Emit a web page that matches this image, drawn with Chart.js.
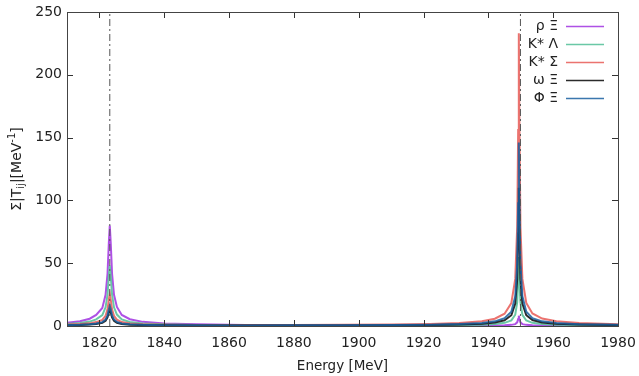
<!DOCTYPE html>
<html lang="en">
<head>
  <meta charset="UTF-8" />
  <title>Σ|Tij| vs Energy</title>
  <script src="https://cdn.jsdelivr.net/npm/chart.js"></script>
  <style>
    html, body { margin: 0; padding: 0; background: #fff; }
    #box { width: 639px; height: 376px; }
  </style>
</head>
<body>
  <div id="box"><canvas id="grafico"></canvas></div>

<script>
  // energies (MeV), denser around the two poles
  const energia = [1810, 1814, 1817, 1819, 1820.9, 1821.9, 1822.5, 1822.9, 1823.2, 1823.5, 1823.9, 1824.5, 1825.4, 1826.9, 1829.4, 1833.4,
    1840, 1850, 1865, 1880, 1895, 1910, 1922, 1931, 1938, 1942, 1945, 1947.1, 1948.3, 1948.9, 1949.2, 1949.4, 1949.6, 1949.9,
    1950.5, 1951.7, 1953.6, 1956.6, 1961, 1968, 1980];

  const rhoXi = [2.6, 3.8, 5.8, 8.8, 14.4, 24.8, 41.6, 65.6, 80, 65.6, 41.6, 24.8, 15.2, 8.8, 5.4, 3.3,
    2.0, 1.3, 0.8, 0.6, 0.5, 0.4, 0.39, 0.39, 0.42, 0.48, 0.6, 0.9, 1.5, 2.9, 5.6, 8.2, 5.6, 2.9,
    1.5, 0.9, 0.6, 0.45, 0.38, 0.33, 0.28];
  const kstLambda = [1.6, 2.3, 3.5, 5.3, 8.6, 14.9, 25, 39.4, 48, 39.4, 25, 14.9, 9.1, 5.3, 3.2, 2.0,
    1.3, 0.87, 0.6, 0.5, 0.46, 0.48, 0.56, 0.73, 1.05, 1.5, 2.5, 4.5, 9, 18.7, 36.9, 55, 36.9, 18.7,
    8.9, 4.4, 2.5, 1.5, 1.0, 0.68, 0.46];
  const kstSigma = [1.1, 1.5, 2.1, 3.1, 4.8, 8.1, 13.3, 20.8, 25.3, 20.8, 13.3, 8.1, 5.1, 3.1, 2.0, 1.4,
    1.0, 0.82, 0.74, 0.8, 0.92, 1.2, 1.64, 2.4, 3.8, 5.8, 9.8, 18.3, 37.5, 79, 156, 233, 156, 79,
    37.5, 18.3, 10, 5.9, 3.7, 2.3, 1.4];
  const omegaXi = [0.57, 0.76, 1.1, 1.6, 2.5, 4.2, 6.9, 10.8, 13.2, 10.8, 6.9, 4.2, 2.6, 1.6, 1.0, 0.7,
    0.52, 0.41, 0.36, 0.39, 0.44, 0.56, 0.78, 1.13, 1.8, 2.8, 4.6, 8.6, 17.8, 37.4, 73.7, 110, 73.7, 37.4,
    17.8, 8.6, 4.8, 2.8, 1.7, 1.1, 0.7];
  const phiXi = [0.72, 0.95, 1.35, 2.0, 3.1, 5.2, 8.5, 13.3, 16.2, 13.3, 8.5, 5.2, 3.2, 2.0, 1.3, 0.9,
    0.65, 0.52, 0.47, 0.5, 0.57, 0.75, 1.03, 1.5, 2.4, 3.7, 6.2, 11.4, 23.6, 49.6, 97.8, 146, 97.8, 49.6,
    23.6, 11.4, 6.3, 3.7, 2.3, 1.4, 0.9];

  const nomes = ['ρ Ξ', 'K* Λ', 'K* Σ', 'ω Ξ', 'Φ Ξ'];
  const cores = ['rgba(160, 50, 224, 0.85)', 'rgba(80, 190, 150, 0.85)', 'rgba(232, 90, 86, 0.85)', 'rgba(20, 20, 20, 0.9)', 'rgba(25, 95, 160, 0.85)'];
  const series = [rhoXi, kstLambda, kstSigma, omegaXi, phiXi];

  // pole positions marked with dash-dot lines
  const polos = [1823.2, 1949.9];

  const xTicks = [1820, 1840, 1860, 1880, 1900, 1920, 1940, 1960, 1980];
  const yTicks = [0, 50, 100, 150, 200, 250];

  const fonte = '"DejaVu Sans", sans-serif';

  const datasets = series.map((vals, i) => ({
    label: nomes[i],
    data: energia.map((e, k) => ({ x: e, y: vals[k] })),
    borderColor: cores[i],
    borderWidth: 2,
    pointRadius: 0,
    tension: 0,
    order: 10 - i
  }));

  polos.forEach(p => {
    datasets.push({
      label: '',
      data: [{ x: p, y: 0 }, { x: p, y: 250 }],
      borderColor: '#555',
      borderWidth: 1,
      borderDash: [7, 3, 2, 3],
      pointRadius: 0,
      order: 0
    });
  });

  // inward ticks on all four sides, frame, titles and the legend
  const extras = {
    id: 'extras',
    afterDraw(chart) {
      const ctx = chart.ctx;
      const a = chart.chartArea;
      const sx = chart.scales.x, sy = chart.scales.y;
      ctx.save();
      ctx.strokeStyle = '#333';
      ctx.lineWidth = 1;
      ctx.beginPath();
      xTicks.forEach(v => {
        const px = Math.round(sx.getPixelForValue(v)) + 0.5;
        ctx.moveTo(px, a.bottom); ctx.lineTo(px, a.bottom - 6);
        ctx.moveTo(px, a.top); ctx.lineTo(px, a.top + 6);
      });
      yTicks.forEach(v => {
        const py = Math.round(sy.getPixelForValue(v)) + 0.5;
        ctx.moveTo(a.left, py); ctx.lineTo(a.left + 6, py);
        ctx.moveTo(a.right, py); ctx.lineTo(a.right - 6, py);
      });
      ctx.stroke();
      ctx.strokeStyle = '#444';
      ctx.strokeRect(Math.round(a.left) + 0.5, Math.round(a.top) + 0.5,
        Math.round(a.right - a.left), Math.round(a.bottom - a.top));

      ctx.fillStyle = '#222';
      ctx.font = '13.5px ' + fonte;
      ctx.textAlign = 'center';
      ctx.textBaseline = 'middle';
      ctx.fillText('Energy [MeV]', (a.left + a.right) / 2, 366);

      // y title with sub/superscripts
      ctx.save();
      ctx.translate(17, 169);
      ctx.rotate(-Math.PI / 2);
      const partes = [
        ['Σ|T', 14, 0], ['ij', 10, 4], ['|[MeV', 14, 0], ['-1', 10, -5], [']', 14, 0]
      ];
      let total = 0;
      partes.forEach(p => { ctx.font = p[1] + 'px ' + fonte; total += ctx.measureText(p[0]).width; });
      let cx = -total / 2;
      ctx.textAlign = 'left';
      partes.forEach(p => {
        ctx.font = p[1] + 'px ' + fonte;
        ctx.fillText(p[0], cx, p[2]);
        cx += ctx.measureText(p[0]).width;
      });
      ctx.restore();

      // legend: right-aligned text followed by a line sample
      ctx.font = '14px ' + fonte;
      ctx.textAlign = 'right';
      nomes.forEach((n, i) => {
        const ly = 26 + i * 18;
        ctx.fillStyle = '#222';
        ctx.fillText(n, 558, ly);
        ctx.strokeStyle = cores[i];
        ctx.lineWidth = 1.5;
        ctx.beginPath();
        ctx.moveTo(566, ly + 0.5); ctx.lineTo(604, ly + 0.5);
        ctx.stroke();
      });
      ctx.restore();
    }
  };

  new Chart(document.getElementById('grafico'), {
    type: 'line',
    data: { datasets: datasets },
    options: {
      responsive: true,
      maintainAspectRatio: false,
      animation: false,
      layout: { padding: { left: 0, top: 12, right: 21, bottom: 0 } },
      plugins: { legend: { display: false }, tooltip: { enabled: false } },
      scales: {
        x: {
          type: 'linear',
          min: 1810, max: 1980,
          afterFit: s => { s.height = 50; s.paddingLeft = 0; s.paddingRight = 0; },
          afterBuildTicks: s => { s.ticks = xTicks.map(v => ({ value: v })); },
          grid: { display: false, drawTicks: false },
          border: { display: false },
          ticks: { color: '#222', padding: 9, maxRotation: 0, callback: v => String(v), font: { family: fonte, size: 14 } }
        },
        y: {
          min: 0, max: 250,
          afterFit: s => { s.width = 67; s.paddingTop = 0; s.paddingBottom = 0; },
          afterBuildTicks: s => { s.ticks = yTicks.map(v => ({ value: v })); },
          grid: { display: false, drawTicks: false },
          border: { display: false },
          ticks: { color: '#222', padding: 5, callback: v => String(v), font: { family: fonte, size: 14 } }
        }
      }
    },
    plugins: [extras]
  });
</script>
</body>
</html>
